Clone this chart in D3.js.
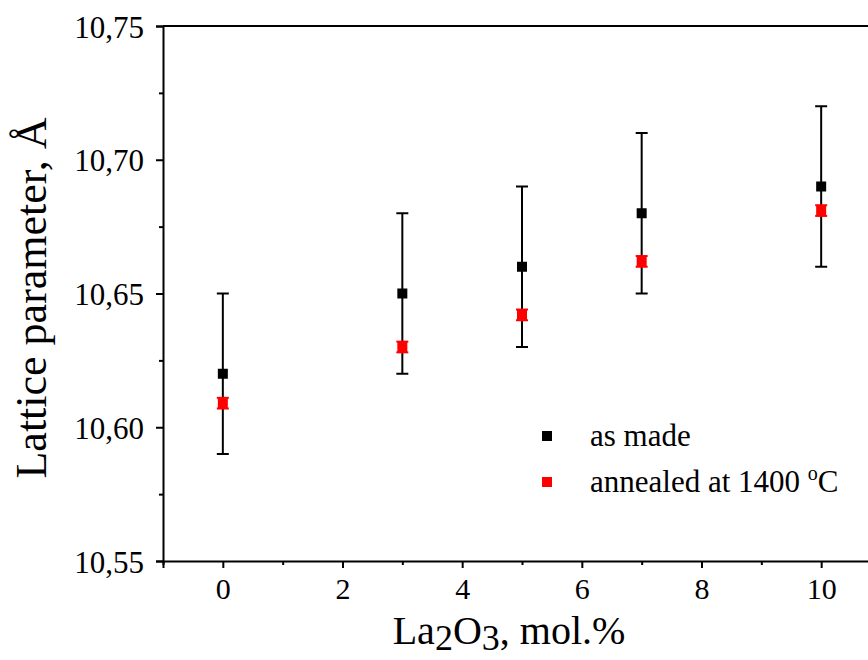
<!DOCTYPE html>
<html><head><meta charset="utf-8">
<script src="https://cdn.jsdelivr.net/npm/d3@7"></script>
<style>body{margin:0;background:#fff}svg{display:block}text{font-family:"Liberation Serif","Times New Roman",serif;fill:#000}</style>
</head><body>
<script>
const xValues = [0, 3, 5, 7, 10];
const asMade = [10.62, 10.65, 10.66, 10.68, 10.69];
const asMadeErr = [0.03, 0.03, 0.03, 0.03, 0.03];
const annealed = [10.609, 10.630, 10.642, 10.662, 10.681];
const annealedErr = [0.002, 0.002, 0.002, 0.002, 0.002];
const xTicks = [0, 2, 4, 6, 8, 10];
const yTicks = [10.55, 10.60, 10.65, 10.70, 10.75];
const legendLabels = ["as made", "annealed at 1400 "];

const W = 868, H = 660;
const m = {left: 163, top: 26, right: 881, bottom: 561};
const svg = d3.select("body").append("svg").attr("width", W).attr("height", H);
const x = d3.scaleLinear().domain([-1, 11]).range([m.left, m.right]);
const y = d3.scaleLinear().domain([10.55, 10.75]).range([m.bottom, m.top]);

svg.append("line").attr("x1", m.left).attr("x2", m.right).attr("y1", m.top).attr("y2", m.top).attr("stroke", "#000").attr("stroke-width", 2);

const fmt = d => d3.format(".2f")(d).replace(".", ",");
const yAx = svg.append("g").attr("transform", `translate(${m.left},0)`)
  .call(d3.axisLeft(y).tickValues(yTicks).tickFormat(fmt).tickSize(7).tickPadding(12));
yAx.selectAll(".tick text").attr("font-size", 31).attr("dy", "0.36em");
svg.append("g").attr("transform", `translate(${m.left},0)`)
  .call(d3.axisLeft(y).tickValues([10.575, 10.625, 10.675, 10.725]).tickFormat("").tickSize(4))
  .select(".domain").remove();
const xAx = svg.append("g").attr("transform", `translate(0,${m.bottom})`)
  .call(d3.axisBottom(x).tickValues(xTicks).tickFormat(d3.format("d")).tickSize(7).tickPadding(10));
xAx.selectAll(".tick text").attr("font-size", 30);
svg.append("g").attr("transform", `translate(0,${m.bottom})`)
  .call(d3.axisBottom(x).tickValues([-1, 1, 3, 5, 7, 9]).tickFormat("").tickSize(4))
  .select(".domain").remove();
svg.selectAll(".domain").attr("stroke-width", 2);
svg.selectAll(".tick line").attr("stroke-width", 2);

function series(vals, errs, color, cap) {
  const g = svg.append("g");
  vals.forEach((v, i) => {
    const cx = x(xValues[i]);
    g.append("line").attr("x1", cx).attr("x2", cx).attr("y1", y(v - errs[i])).attr("y2", y(v + errs[i])).attr("stroke", color).attr("stroke-width", 2);
    [v - errs[i], v + errs[i]].forEach(e => g.append("line").attr("x1", cx - cap).attr("x2", cx + cap).attr("y1", y(e)).attr("y2", y(e)).attr("stroke", color).attr("stroke-width", 2));
    g.append("rect").attr("x", cx - 5).attr("y", y(v) - 5).attr("width", 10).attr("height", 10).attr("fill", color);
  });
}
series(asMade, asMadeErr, "#000", 6);
series(annealed, annealedErr, "#ff0000", 6);

const colors = ["#000", "#ff0000"];
legendLabels.forEach((l, i) => {
  const ly = 436 + i * 46;
  svg.append("rect").attr("x", 542).attr("y", ly - 5).attr("width", 10).attr("height", 10).attr("fill", colors[i]);
  const t = svg.append("text").attr("x", 590).attr("y", ly + 10).attr("font-size", 31).text(l);
  if (i === 1) {
    t.append("tspan").attr("font-size", 20).attr("dy", -12).text("o");
    t.append("tspan").attr("dy", 12).text("C");
  }
});

svg.append("text").attr("transform", "translate(46,298) rotate(-90)").attr("text-anchor", "middle").attr("font-size", 44).text("Lattice parameter, Å");
const xt = svg.append("text").attr("x", 509).attr("y", 644).attr("text-anchor", "middle").attr("font-size", 40);
xt.append("tspan").text("La");
xt.append("tspan").attr("dy", 6).attr("font-size", 36).text("2");
xt.append("tspan").attr("dy", -6).text("O");
xt.append("tspan").attr("dy", 6).attr("font-size", 36).text("3");
xt.append("tspan").attr("dy", -6).text(", mol.%");
</script>
</body></html>
